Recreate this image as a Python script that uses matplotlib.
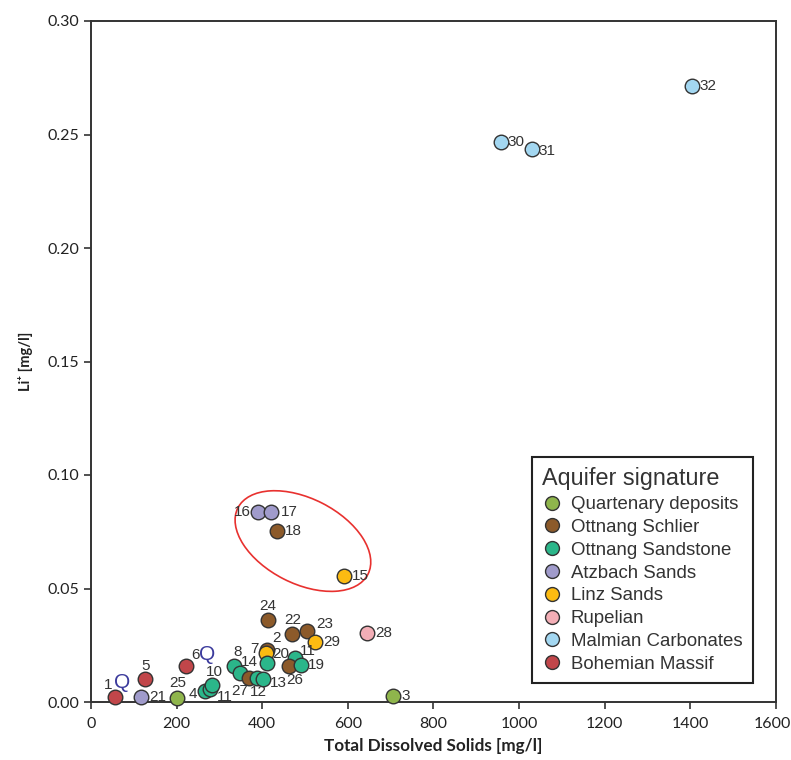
import matplotlib
matplotlib.use("Agg")
import matplotlib.pyplot as plt
from matplotlib.patches import Ellipse
from matplotlib.transforms import ScaledTranslation
from matplotlib.lines import Line2D

# Sample data: sample number, total dissolved solids [mg/l], Li+ [mg/l], aquifer
sample_ids = ["1", "21", "25", "5", "6", "4", "11", "10", "8", "14", "27", "12", "13",
              "2", "7", "20", "11", "26", "19", "24", "22", "23", "29", "28", "3",
              "16", "17", "18", "15", "30", "31", "32"]
tds = [56, 116, 202, 126, 221, 266, 277, 282, 333, 348, 368, 387, 401,
       412, 409, 410, 477, 463, 491, 413, 469, 504, 523, 644, 706,
       391, 420, 434, 590, 957, 1030, 1403]
li = [0.0023, 0.0023, 0.0019, 0.0100, 0.0159, 0.0050, 0.0056, 0.0075, 0.0159, 0.0126,
      0.0107, 0.0104, 0.0100, 0.0229, 0.0217, 0.0173, 0.0192, 0.0159, 0.0163, 0.0361,
      0.0298, 0.0314, 0.0266, 0.0305, 0.0026, 0.0836, 0.0836, 0.0755, 0.0556,
      0.2468, 0.2436, 0.2715]
aquifer = ["Bohemian Massif", "Atzbach Sands", "Quartenary deposits", "Bohemian Massif",
           "Bohemian Massif", "Ottnang Sandstone", "Ottnang Sandstone", "Ottnang Sandstone",
           "Ottnang Sandstone", "Ottnang Sandstone", "Ottnang Schlier", "Ottnang Sandstone",
           "Ottnang Sandstone", "Ottnang Schlier", "Linz Sands", "Ottnang Sandstone",
           "Ottnang Sandstone", "Ottnang Schlier", "Ottnang Sandstone", "Ottnang Schlier",
           "Ottnang Schlier", "Ottnang Schlier", "Linz Sands", "Rupelian",
           "Quartenary deposits", "Atzbach Sands", "Atzbach Sands", "Ottnang Schlier",
           "Linz Sands", "Malmian Carbonates", "Malmian Carbonates", "Malmian Carbonates"]

groups = ["Quartenary deposits", "Ottnang Schlier", "Ottnang Sandstone", "Atzbach Sands",
          "Linz Sands", "Rupelian", "Malmian Carbonates", "Bohemian Massif"]
colors = {"Quartenary deposits": "#8fb54c", "Ottnang Schlier": "#8c5a2a",
          "Ottnang Sandstone": "#2bb68a", "Atzbach Sands": "#a09bcb",
          "Linz Sands": "#fcbb12", "Rupelian": "#f3aeb6",
          "Malmian Carbonates": "#a3d7f1", "Bohemian Massif": "#c1464a"}

# label offsets in pixels (dx, dy up), measured from the marker centre
label_px = [(-7, 12), (17, 0), (0, 15), (1, 13), (10, 11), (-12, -3), (15, -8), (3, 13),
            (4, 14), (9, 11), (-9, -13), (2, -14), (16, -4), (9, 12), (-12, 4), (14, 9),
            (13, 7), (6, -14), (15, 0), (0, 14), (1, 14), (18, 7), (17, 0), (17, 0),
            (12, 0), (-16, 0), (18, 0), (17, 0), (17, 0), (15, 0), (15, -2), (16, 0)]

# "Q" marks next to samples 1 and 6 (index, dx, dy in px)
q_marks = [(0, 7, 14), (4, 22, 11)]

DPI = 100
PT = 72.0 / DPI

fig = plt.figure(figsize=(7.91, 7.60), dpi=DPI)
ax = fig.add_axes([91 / 791, 1 - 702 / 760, 685 / 791, 681 / 760])

# draw order follows the sample list so overlapping markers stack in that order
for x, y, g in zip(tds, li, aquifer):
    ax.scatter(x, y, s=110, color=colors[g], edgecolor="#333333", linewidth=1.0,
               zorder=3, clip_on=False)

for sid, x, y, (dx, dy) in zip(sample_ids, tds, li, label_px):
    ax.annotate(sid, (x, y), xytext=(dx * PT, dy * PT), textcoords="offset points",
                ha="center", va="center", fontsize=11, color="#333333",
                family="Liberation Sans", zorder=4)

for idx, dx, dy in q_marks:
    ax.annotate("Q", (tds[idx], li[idx]), xytext=(dx * PT, dy * PT),
                textcoords="offset points", ha="center", va="center", fontsize=15,
                color="#3b3a9c", family="Liberation Sans", zorder=4)

# red ellipse around samples 15-18
ell_tr = fig.dpi_scale_trans + ScaledTranslation(495, 0.0709, ax.transData)
ax.add_patch(Ellipse((0, 0), 1.46, 0.85, angle=-27, transform=ell_tr,
                     fill=False, edgecolor="#e8312f", linewidth=1.2, zorder=2))

ax.set_xlim(0, 1600)
ax.set_ylim(0, 0.30)
ax.set_xticks(range(0, 1601, 200))
ax.set_yticks([0.0, 0.05, 0.10, 0.15, 0.20, 0.25, 0.30])
ax.set_yticklabels(["0.00", "0.05", "0.10", "0.15", "0.20", "0.25", "0.30"])
ax.tick_params(direction="out", length=5, width=1.2, colors="#333333",
               labelsize=11.5, labelcolor="#222222")
ax.tick_params(axis="x", pad=6)
for lab in ax.get_xticklabels() + ax.get_yticklabels():
    lab.set_family("Lato")
# nudge the last x tick label left so it stays inside the canvas
last_tick = ax.xaxis.get_major_ticks()[-1]
last_tick.label1.set_transform(last_tick.label1.get_transform()
                               + ScaledTranslation(-4 / DPI, 0, fig.dpi_scale_trans))
for sp in ax.spines.values():
    sp.set_color("#333333")
    sp.set_linewidth(1.4)

ax.set_xlabel("Total Dissolved Solids [mg/l]", fontsize=12.3, fontweight="bold",
              family=["Lato", "DejaVu Sans"], color="#222222", labelpad=5)
ax.set_ylabel("Li\u207a [mg/l]", fontsize=10.5, fontweight="bold",
              family=["Lato", "DejaVu Sans"], color="#222222", labelpad=10)

handles = [Line2D([], [], linestyle="none", marker="o", markersize=10,
                  markerfacecolor=colors[g], markeredgecolor="#333333",
                  markeredgewidth=1.0) for g in groups]
leg = ax.legend(handles, groups, title="Aquifer signature", loc="lower right",
                bbox_to_anchor=(0.966, 0.028), frameon=True, fancybox=False,
                edgecolor="#222222", framealpha=1, borderpad=0.55,
                handletextpad=0.45, labelspacing=0.31, handlelength=1.1,
                borderaxespad=0,
                prop={"family": "Liberation Sans", "size": 13.4},
                title_fontproperties={"family": "Liberation Sans", "size": 16.8})
leg.get_frame().set_linewidth(1.5)
leg._legend_box.align = "left"
for t in leg.get_texts():
    t.set_color("#333333")
leg.get_title().set_color("#333333")

fig.savefig("out.png", dpi=DPI)
